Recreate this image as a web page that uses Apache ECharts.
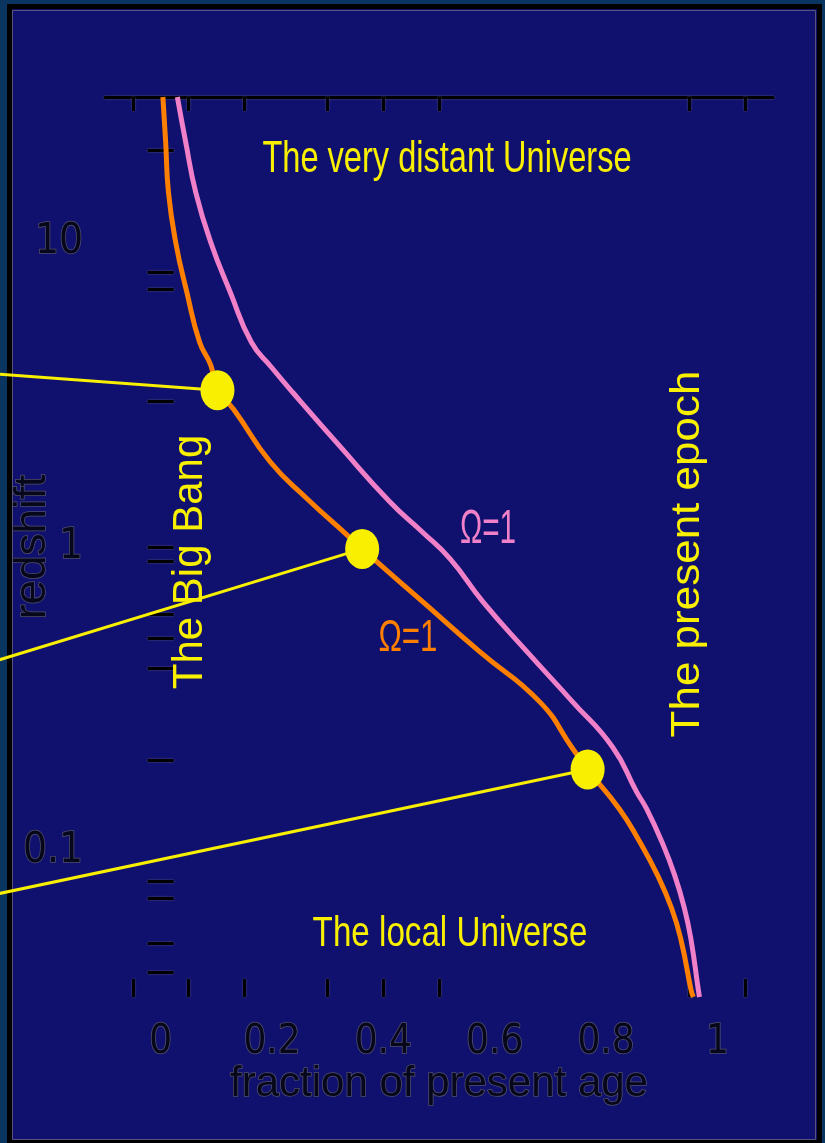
<!DOCTYPE html>
<html>
<head>
<meta charset="utf-8">
<title>Redshift and the age of the Universe</title>
<script src="https://cdn.jsdelivr.net/npm/echarts@6/dist/echarts.min.js"></script>
<style>
  html, body { margin: 0; padding: 0; background: #0a3560; }
  #chart { width: 825px; height: 1143px; }
</style>
</head>
<body>
<div id="chart"></div>
<script>
// orange curve (Omega=1): fraction of present age / redshift
const ageOrange = [0.004, 0.009, 0.014, 0.027, 0.047, 0.070, 0.090, 0.102, 0.131, 0.197, 0.263, 0.335, 0.362, 0.471, 0.573, 0.681, 0.740, 0.767, 0.824, 0.860, 0.892, 0.918, 0.935, 0.953, 0.957];
const zOrange = [30, 21.3, 14.6, 10.0, 6.86, 4.70, 3.95, 3.27, 2.83, 1.90, 1.44, 1.094, 0.985, 0.66, 0.453, 0.310, 0.218, 0.186, 0.138, 0.108, 0.084, 0.065, 0.051, 0.035, 0.0333];
// pink curve
const agePink = [0.030, 0.045, 0.063, 0.090, 0.125, 0.163, 0.199, 0.237, 0.323, 0.412, 0.470, 0.520, 0.579, 0.658, 0.740, 0.812, 0.855, 0.873, 0.900, 0.923, 0.941, 0.953, 0.966, 0.968];
const zPink = [30, 21.3, 14.6, 10.0, 6.86, 4.70, 3.89, 3.22, 2.13, 1.405, 1.12, 0.913, 0.66, 0.453, 0.310, 0.220, 0.157, 0.138, 0.108, 0.084, 0.065, 0.051, 0.035, 0.0333];
// yellow dots on the orange curve
const epochAge = [0.102, 0.362, 0.767];
const epochZ = [3.27, 0.985, 0.186];
// left ends of the yellow pointer lines (run off the left edge)
const pointerAge = [-0.29, -0.29, -0.29];
const pointerZ = [3.69, 0.426, 0.0728];

const ageLabels = [0, 0.2, 0.4, 0.6, 0.8, 1];
const ageTicks = [-0.05, 0.05, 0.15, 0.3, 0.4, 0.5, 0.95, 1.05];
const zLabels = [0.1, 1, 10];
const zTicks = [20, 8, 7, 3, 1, 0.9, 0.6, 0.5, 0.4, 0.2, 0.08, 0.07, 0.05, 0.04];

const NAVY = '#10106e';
const YELLOW = '#f8f000';
const narrow = "'Liberation Sans Narrow', 'DejaVu Sans Condensed', 'Liberation Sans', sans-serif";

const darkText = {
  color: '#07071c',
  textBorderColor: '#50506c',
  textBorderWidth: 1.5,
  fontFamily: narrow
};
const tickLine = { color: '#000', width: 3, shadowColor: '#60607a', shadowBlur: 2 };

const zip = (a, b) => a.map((v, i) => [v, b[i]]);

const myChart = echarts.init(document.getElementById('chart'), null, { renderer: 'canvas' });

function label(text, x, y, size, color, opts) {
  return Object.assign({
    type: 'text',
    x: x,
    y: y,
    z: 10,
    silent: true,
    style: {
      text: text,
      fill: color,
      font: size + "px 'Liberation Sans', Arial, sans-serif",
      textAlign: 'center',
      textVerticalAlign: 'middle',
      align: 'center',
      verticalAlign: 'middle'
    }
  }, opts || {});
}

const option = {
  backgroundColor: '#0a3560',
  animation: false,
  grid: { left: 105, right: 52, top: 97, bottom: 146, containLabel: false, outerBoundsMode: 'none' },
  xAxis: [
    {
      type: 'value',
      min: -0.1,
      max: 1.1,
      position: 'bottom',
      name: 'fraction of present age',
      nameLocation: 'middle',
      nameGap: 66,
      nameMoveOverlap: false,
      nameTextStyle: Object.assign({}, darkText, { fontSize: 42, fontFamily: "'Liberation Sans', sans-serif" }),
      splitLine: { show: false },
      axisLine: { show: false },
      axisTick: { inside: true, length: 18, customValues: ageTicks, lineStyle: tickLine },
      axisLabel: Object.assign({}, darkText, {
        fontSize: 40,
        margin: 26,
        customValues: ageLabels,
        formatter: (v) => String(v)
      })
    },
    {
      type: 'value',
      min: -0.1,
      max: 1.1,
      position: 'top',
      splitLine: { show: false },
      axisLine: { show: true, lineStyle: tickLine },
      axisTick: { inside: true, length: 14, customValues: ageTicks, lineStyle: tickLine },
      axisLabel: { show: false }
    }
  ],
  yAxis: [
    {
      type: 'log',
      logBase: 10,
      min: 0.0333,
      max: 30,
      position: 'left',
      name: 'redshift',
      nameLocation: 'middle',
      nameGap: 50,
      nameRotate: 90,
      nameMoveOverlap: false,
      nameTextStyle: Object.assign({}, darkText, { fontSize: 44, fontFamily: "'Liberation Sans', sans-serif" }),
      splitLine: { show: false },
      axisLine: { show: false },
      axisTick: { inside: true, length: 13, customValues: zTicks, lineStyle: tickLine },
      axisLabel: Object.assign({}, darkText, {
        fontSize: 42,
        margin: 22,
        customValues: zLabels,
        formatter: (v) => String(v)
      })
    },
    {
      type: 'log',
      logBase: 10,
      min: 0.0333,
      max: 30,
      position: 'right',
      splitLine: { show: false },
      axisLine: { show: false },
      axisTick: { inside: true, length: 13, customValues: zTicks, lineStyle: tickLine },
      axisLabel: { show: false }
    }
  ],
  graphic: [
    {
      type: 'rect',
      z: -10,
      silent: true,
      shape: { x: 9.5, y: 6.5, width: 810, height: 1136 },
      style: { fill: NAVY, stroke: '#000', lineWidth: 5 }
    },
    {
      type: 'rect',
      z: -9,
      silent: true,
      shape: { x: 12.5, y: 10.5, width: 803, height: 1129 },
      style: { fill: 'none', stroke: '#55557a', lineWidth: 1 }
    },
    label('The very distant Universe', 447, 160, 44, YELLOW, { scaleX: 0.74 }),
    label('The local Universe', 450, 934, 42, YELLOW, { scaleX: 0.79 }),
    label('The Big Bang', 190, 562, 42, YELLOW, { rotation: Math.PI / 2 }),
    label('The present epoch', 688, 554, 40, YELLOW, { rotation: Math.PI / 2, scaleX: 1.1 }),
    label('Ω=1', 488, 530, 48, '#f080c8', { scaleX: 0.62 }),
    label('Ω=1', 408, 639, 44, '#ff8000', { scaleX: 0.71 })
  ],
  series: [
    {
      type: 'line',
      name: 'pink',
      smooth: 0.5,
      symbol: 'none',
      z: 2,
      lineStyle: { color: '#f080c8', width: 5 },
      data: zip(agePink, zPink)
    },
    {
      type: 'line',
      name: 'orange',
      smooth: 0.5,
      symbol: 'none',
      z: 2,
      lineStyle: { color: '#ff8000', width: 5 },
      data: zip(ageOrange, zOrange)
    },
    {
      // yellow pointers from each dot out past the left edge
      type: 'lines',
      coordinateSystem: 'cartesian2d',
      xAxisIndex: 0,
      yAxisIndex: 0,
      clip: false,
      silent: true,
      z: 3,
      lineStyle: { color: YELLOW, width: 3, opacity: 1, curveness: 0 },
      data: epochAge.map((a, i) => ({
        coords: [[pointerAge[i], pointerZ[i]], [a, epochZ[i]]]
      }))
    },
    {
      type: 'scatter',
      name: 'epochs',
      symbol: 'circle',
      symbolSize: [34, 40],
      z: 5,
      itemStyle: { color: YELLOW, opacity: 1 },
      data: zip(epochAge, epochZ)
    }
  ]
};

myChart.setOption(option, true);
window.addEventListener('resize', () => myChart.resize());
</script>
</body>
</html>
